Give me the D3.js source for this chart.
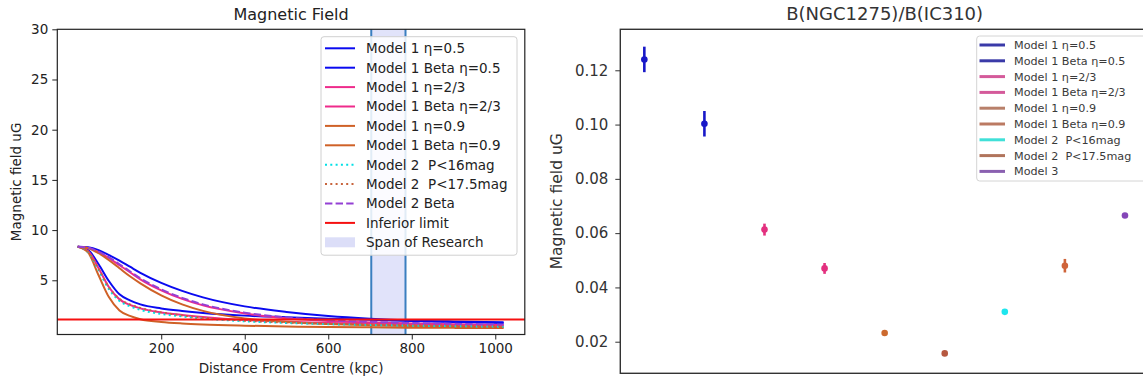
<!DOCTYPE html>
<html>
<head>
<meta charset="utf-8">
<script src="https://cdn.jsdelivr.net/npm/d3@7"></script>
<style>
body { margin: 0; background: #fff; }
svg { font-family: "DejaVu Sans", sans-serif; }
text { white-space: pre; }
</style>
</head>
<body>
<div id="chart"></div>
<script>
// ---- left panel: field profiles (kpc, uG)
const radius = [0, 25, 50, 75, 100, 125, 150, 200, 250, 300, 400, 500, 600, 700, 800, 900, 1020];

const m1Eta05     = [8.34, 8.0, 6.6, 4.9, 3.6, 3.0, 2.6, 2.2, 1.95, 1.75, 1.48, 1.32, 1.18, 1.06, 0.95, 0.85, 0.75];
const m1BetaEta05 = [8.34, 8.28, 8.0, 7.5, 6.95, 6.35, 5.75, 4.75, 3.95, 3.3, 2.4, 1.85, 1.45, 1.18, 1.0, 0.9, 0.82];
const m1Eta23     = [8.34, 7.9, 6.2, 4.3, 3.1, 2.55, 2.2, 1.8, 1.55, 1.35, 1.05, 0.88, 0.75, 0.66, 0.58, 0.52, 0.46];
const m1BetaEta23 = [8.34, 8.22, 7.8, 7.2, 6.5, 5.8, 5.1, 4.0, 3.15, 2.5, 1.7, 1.22, 0.95, 0.8, 0.7, 0.62, 0.55];
const m1Eta09     = [8.34, 7.75, 5.5, 3.3, 2.0, 1.45, 1.12, 0.85, 0.7, 0.6, 0.48, 0.4, 0.35, 0.31, 0.28, 0.26, 0.24];
const m1BetaEta09 = [8.34, 8.2, 7.7, 7.0, 6.2, 5.4, 4.7, 3.5, 2.6, 1.95, 1.2, 0.85, 0.65, 0.52, 0.44, 0.38, 0.33];
const m2P16       = [8.34, 7.8, 6.0, 4.1, 2.95, 2.4, 2.05, 1.65, 1.4, 1.2, 0.92, 0.75, 0.63, 0.55, 0.48, 0.43, 0.38];
const m2P175      = [8.34, 7.85, 6.15, 4.3, 3.15, 2.6, 2.25, 1.8, 1.5, 1.28, 0.98, 0.8, 0.68, 0.6, 0.53, 0.48, 0.43];
const m2Beta      = [8.34, 8.24, 7.85, 7.28, 6.6, 5.9, 5.2, 4.1, 3.25, 2.6, 1.78, 1.3, 1.02, 0.86, 0.75, 0.67, 0.6];

const inferiorLimit = 1.1;
const researchSpan = [703, 785];

const leftXTicks = [200, 400, 600, 800, 1000];
const leftYTicks = [5, 10, 15, 20, 25, 30];

// ---- right panel: B(NGC1275)/B(IC310) per model
const ratioLabels = ["Model 1 η=0.5", "Model 1 Beta η=0.5", "Model 1 η=2/3", "Model 1 Beta η=2/3",
  "Model 1 η=0.9", "Model 1 Beta η=0.9", "Model 2  P<16mag", "Model 2  P<17.5mag", "Model 3"];
const ratioValues = [0.124, 0.1003, 0.0613, 0.0470, 0.0232, 0.0157, 0.0310, 0.0480, 0.0665];
const ratioErrors = [0.0047, 0.0047, 0.0022, 0.0020, 0.0008, 0.0006, 0.0006, 0.0025, 0.0007];
const rightYTicks = [0.02, 0.04, 0.06, 0.08, 0.10, 0.12];

const W = 1143, H = 382;
const svg = d3.select("#chart").append("svg")
  .attr("width", W)
  .attr("height", H);

// ================= LEFT =================
const L = { left: 57.3, right: 524.8, top: 29.3, bottom: 334.5 };

const x = d3.scaleLinear().domain([-48.9, 1070.7]).range([L.left, L.right]);
const y = d3.scaleLinear().domain([-0.4, 30]).range([L.bottom, L.top]);

const left = svg.append("g");

// span of research
left.append("rect")
  .attr("x", x(researchSpan[0]))
  .attr("y", L.top)
  .attr("width", x(researchSpan[1]) - x(researchSpan[0]))
  .attr("height", L.bottom - L.top)
  .attr("fill", "#e1e3fa");
researchSpan.forEach(v => {
  left.append("line")
    .attr("x1", x(v)).attr("x2", x(v))
    .attr("y1", L.top).attr("y2", L.bottom)
    .attr("stroke", "#3a7fc0")
    .attr("stroke-width", 2);
});

const series = [
  { name: "Model 1 η=0.5", vals: m1Eta05, color: "#0a0af0", dash: null },
  { name: "Model 1 Beta η=0.5", vals: m1BetaEta05, color: "#0a0af0", dash: null },
  { name: "Model 1 η=2/3", vals: m1Eta23, color: "#ee2b8b", dash: null },
  { name: "Model 1 Beta η=2/3", vals: m1BetaEta23, color: "#ee2b8b", dash: null },
  { name: "Model 1 η=0.9", vals: m1Eta09, color: "#cf6127", dash: null },
  { name: "Model 1 Beta η=0.9", vals: m1BetaEta09, color: "#cf6127", dash: null },
  { name: "Model 2  P<16mag", vals: m2P16, color: "#00e0e6", dash: "2,3.3" },
  { name: "Model 2  P<17.5mag", vals: m2P175, color: "#c8643c", dash: "2,3.3" },
  { name: "Model 2 Beta", vals: m2Beta, color: "#9440d4", dash: "7.4,3.2" }
];

const line = d3.line()
  .x((d, i) => x(radius[i]))
  .y(d => y(d))
  .curve(d3.curveMonotoneX);

series.forEach(s => {
  left.append("path")
    .datum(s.vals)
    .attr("d", line)
    .attr("fill", "none")
    .attr("stroke", s.color)
    .attr("stroke-width", 2)
    .attr("stroke-dasharray", s.dash);
});

// inferior limit
left.append("line")
  .attr("x1", L.left).attr("x2", L.right)
  .attr("y1", y(inferiorLimit)).attr("y2", y(inferiorLimit))
  .attr("stroke", "#f51010")
  .attr("stroke-width", 2);

// axes
const lxAxis = left.append("g")
  .attr("transform", `translate(0,${L.bottom})`)
  .call(d3.axisBottom(x).tickValues(leftXTicks).tickSize(5).tickPadding(4).tickFormat(d3.format("d")));
const lyAxis = left.append("g")
  .attr("transform", `translate(${L.left},0)`)
  .call(d3.axisLeft(y).tickValues(leftYTicks).tickSize(5).tickPadding(4).tickFormat(d3.format("d")));
[lxAxis, lyAxis].forEach(a => {
  a.select(".domain").remove();
  a.selectAll("line").attr("stroke", "#222");
  a.selectAll("text").attr("font-size", 13.5).attr("fill", "#222").attr("font-family", "DejaVu Sans");
});

left.append("rect")
  .attr("x", L.left).attr("y", L.top)
  .attr("width", L.right - L.left).attr("height", L.bottom - L.top)
  .attr("fill", "none").attr("stroke", "#222").attr("stroke-width", 1.2);

left.append("text")
  .attr("x", (L.left + L.right) / 2).attr("y", 20)
  .attr("text-anchor", "middle").attr("font-size", 16).attr("fill", "#222")
  .text("Magnetic Field");
left.append("text")
  .attr("x", (L.left + L.right) / 2).attr("y", 373)
  .attr("text-anchor", "middle").attr("font-size", 13.5).attr("fill", "#222")
  .text("Distance From Centre (kpc)");
left.append("text")
  .attr("transform", `translate(21,${(L.top + L.bottom) / 2}) rotate(-90)`)
  .attr("text-anchor", "middle").attr("font-size", 13.5).attr("fill", "#222")
  .text("Magnetic field uG");

// legend
const lg = left.append("g");
lg.append("rect")
  .attr("x", 321).attr("y", 36.7).attr("width", 196).attr("height", 218.5)
  .attr("rx", 3)
  .attr("fill", "#fff").attr("fill-opacity", 0.85)
  .attr("stroke", "#d0d0d0");
const legendItems = series.concat([
  { name: "Inferior limit", color: "#f51010", dash: null },
  { name: "Span of Research", patch: "#dcdef8" }
]);
legendItems.forEach((s, i) => {
  const ly = 48.3 + i * 19.4;
  if (s.patch) {
    lg.append("rect")
      .attr("x", 325).attr("y", ly - 5).attr("width", 30).attr("height", 10)
      .attr("fill", s.patch);
  } else {
    lg.append("line")
      .attr("x1", 325).attr("x2", 355)
      .attr("y1", ly).attr("y2", ly)
      .attr("stroke", s.color).attr("stroke-width", 2)
      .attr("stroke-dasharray", s.dash);
  }
  lg.append("text")
    .attr("x", 366).attr("y", ly)
    .attr("dy", "0.36em")
    .attr("font-size", 13.5).attr("fill", "#222")
    .text(s.name);
});

// ================= RIGHT =================
const R = { left: 620.3, right: 1149, top: 29.3, bottom: 373.3 };

const rx = d3.scaleLinear().domain([-0.4, 8.4]).range([R.left, R.right]);
const ry = d3.scaleLinear().domain([0.00836, 0.1351]).range([R.bottom, R.top]);

const pointColors = ["#1818c8", "#1818c8", "#e3307f", "#e3307f", "#cc6a2e", "#b65840", "#1ee6ee", "#cf643a", "#8446b8"];
const legendColors = ["#3a3aa8", "#3a3aa8", "#d45a9a", "#d45a9a", "#b8806a", "#bb7a62", "#40e0d8", "#b0745c", "#8a60b0"];

const right = svg.append("g");

ratioValues.forEach((v, i) => {
  right.append("line")
    .attr("x1", rx(i)).attr("x2", rx(i))
    .attr("y1", ry(v - ratioErrors[i])).attr("y2", ry(v + ratioErrors[i]))
    .attr("stroke", pointColors[i]).attr("stroke-width", 2.6);
  right.append("circle")
    .attr("cx", rx(i)).attr("cy", ry(v)).attr("r", 3.3)
    .attr("fill", pointColors[i]);
});

const ryAxis = right.append("g")
  .attr("transform", `translate(${R.left},0)`)
  .call(d3.axisLeft(ry).tickValues(rightYTicks).tickSize(5).tickPadding(7).tickFormat(d3.format(".2f")));
ryAxis.select(".domain").remove();
ryAxis.selectAll("line").attr("stroke", "#333");
ryAxis.selectAll("text").attr("font-size", 15).attr("fill", "#333").attr("font-family", "DejaVu Sans");

right.append("rect")
  .attr("x", R.left).attr("y", R.top)
  .attr("width", R.right - R.left).attr("height", R.bottom - R.top)
  .attr("fill", "none").attr("stroke", "#333").attr("stroke-width", 1.4);

right.append("text")
  .attr("x", (R.left + R.right) / 2).attr("y", 20)
  .attr("text-anchor", "middle").attr("font-size", 18).attr("fill", "#333")
  .text("B(NGC1275)/B(IC310)");
right.append("text")
  .attr("transform", `translate(562,${(R.top + R.bottom) / 2}) rotate(-90)`)
  .attr("text-anchor", "middle").attr("font-size", 15.5).attr("fill", "#333")
  .text("Magnetic field uG");

const rg = right.append("g");
rg.append("rect")
  .attr("x", 976.7).attr("y", 36).attr("width", 180).attr("height", 145)
  .attr("rx", 3)
  .attr("fill", "#fff").attr("stroke", "#d4d4d4");
ratioLabels.forEach((name, i) => {
  const ly = 45 + i * 15.8;
  rg.append("line")
    .attr("x1", 979.5).attr("x2", 1005)
    .attr("y1", ly).attr("y2", ly)
    .attr("stroke", legendColors[i]).attr("stroke-width", 3);
  rg.append("text")
    .attr("x", 1014).attr("y", ly)
    .attr("dy", "0.36em")
    .attr("font-size", 11.2).attr("fill", "#3a3a3a")
    .text(name);
});
</script>
</body>
</html>
